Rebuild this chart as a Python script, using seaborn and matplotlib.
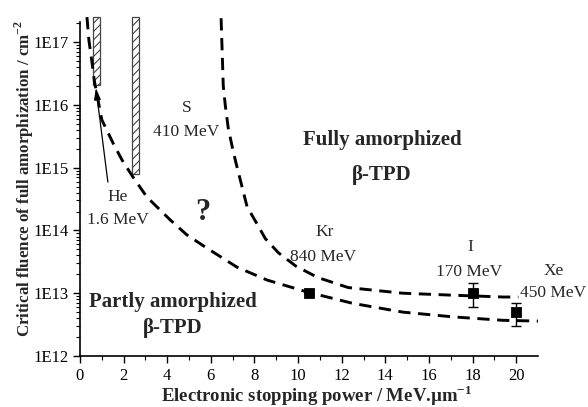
import matplotlib
matplotlib.use("Agg")
import matplotlib.pyplot as plt
import seaborn as sns
import numpy as np
import pandas as pd

# ---- data ----
lower_x = [0.32, 0.41, 0.55, 0.66, 1.0, 1.52, 1.93, 2.43, 3.07, 4.13, 4.9, 5.83,
           7.2, 8.58, 10.4, 12.5, 14.8, 17.1, 19.4, 21.0]
lower_y = [2.5e17, 1.07e17, 4.8e16, 2.4e16, 5.8e15, 2.45e15, 1.32e15, 7.1e14,
           3.4e14, 1.48e14, 8.5e13, 5.2e13, 2.6e13, 1.62e13, 1.05e13, 6.9e12,
           5.0e12, 4.2e12, 3.7e12, 3.6e12]

upper_x = [6.47, 6.51, 6.57, 6.66, 6.8, 7.0, 7.15, 7.66, 8.1, 8.5, 9.1, 9.9,
           10.9, 12.3, 14.8, 17.1, 19.4, 20.1]
upper_y = [2.4e17, 8.9e16, 2.0e16, 1.0e16, 4.2e15, 2.0e15, 1.2e15, 2.4e14,
           1.3e14, 7.4e13, 4.4e13, 2.7e13, 1.78e13, 1.23e13, 1.0e13, 9.3e12,
           8.7e12, 8.7e12]

ions = ["Kr", "I", "Xe"]
ion_x = [10.5, 18.0, 20.0]
ion_y = [1.0e13, 1.0e13, 5.0e12]
ion_err_low = [0.0, 4.0e12, 2.0e12]
ion_err_high = [0.0, 4.5e12, 1.9e12]

bar_x0 = [0.60, 2.39]
bar_x1 = [0.92, 2.71]
bar_bottom = [2.1e16, 8.0e14]
bar_top = [2.5e17, 2.5e17]

ytick_vals = [1e12, 1e13, 1e14, 1e15, 1e16, 1e17]
ytick_labels = ["1E12", "1E13", "1E14", "1E15", "1E16", "1E17"]
xtick_vals = [0, 2, 4, 6, 8, 10, 12, 14, 16, 18, 20]

# ---- style ----
sns.set_style("ticks")
plt.rcParams["font.family"] = ["Liberation Serif", "DejaVu Serif"]
plt.rcParams["mathtext.fontset"] = "custom"
plt.rcParams["mathtext.rm"] = "Liberation Serif"
plt.rcParams["mathtext.bf"] = "Liberation Serif:bold"
plt.rcParams["hatch.color"] = "#666666"
plt.rcParams["hatch.linewidth"] = 0.8

fig = plt.figure(figsize=(5.88, 4.07), dpi=100)
ax = fig.add_axes([0.136, 0.1253, 0.915 - 0.136, 0.966 - 0.1253])

ax.set_yscale("log")
ax.set_xlim(0, 21)
ax.set_ylim(1e12, 10 ** 17.45)

# hatched bars
for x0, x1, b, t in zip(bar_x0, bar_x1, bar_bottom, bar_top):
    ax.bar((x0 + x1) / 2, t - b, bottom=b, width=x1 - x0, color="white",
           edgecolor="#444444", linewidth=0.9, hatch="////", zorder=2)

# dashed curves
df_low = pd.DataFrame({"x": lower_x, "y": lower_y})
df_up = pd.DataFrame({"x": upper_x, "y": upper_y})
for d in (df_low, df_up):
    sns.lineplot(data=d, x="x", y="y", ax=ax, sort=False, estimator=None,
                 color="black", linewidth=2.1, dashes=False, zorder=3)
for line in ax.get_lines():
    line.set_dashes((4.2, 2.6))
    line.set_solid_capstyle("butt")
    line.set_solid_joinstyle("round")

# points with error bars
ax.errorbar(ion_x, ion_y, yerr=[ion_err_low, ion_err_high], fmt="none",
            ecolor="black", elinewidth=1.0, capsize=3.5, capthick=1.0, zorder=4)
df_pts = pd.DataFrame({"x": ion_x, "y": ion_y, "ion": ions})
sns.scatterplot(data=df_pts, x="x", y="y", ax=ax, marker="s", s=55,
                color="black", edgecolor="black", zorder=5, legend=False)

# axes
ax.set_xticks(xtick_vals)
ax.set_xticks(np.arange(1, 21, 2), minor=True)
ax.set_yticks(ytick_vals)
ax.set_yticklabels(ytick_labels)
ax.tick_params(axis="both", which="major", direction="out", length=5,
               width=1.0, labelsize=12, color="black", labelcolor="black")
ax.tick_params(axis="both", which="minor", direction="out", length=3,
               width=0.8, color="black")
ax.tick_params(axis="x", which="major", pad=3.5)
ax.tick_params(axis="y", which="major", pad=3)
for s in ["top", "right"]:
    ax.spines[s].set_visible(False)
for s in ["left", "bottom"]:
    ax.spines[s].set_linewidth(1.2)
    ax.spines[s].set_color("black")
ax.spines["left"].set_bounds(1e12, 10 ** 17.32)

ax.set_xlabel(r"Electronic stopping power / MeV.µm$^{\mathbf{-1}}$",
              fontsize=13.5, fontweight="bold")
ax.set_ylabel(r"Critical fluence of full amorphization / cm$^{\mathbf{-2}}$",
              fontsize=12.2, fontweight="bold")
ax.xaxis.label.set_va("center")
ax.yaxis.label.set_va("center")
ax.xaxis.set_label_coords((317 - 80) / 458, -(396 - 356) / 342)
ax.yaxis.set_label_coords(-(80 - 24) / 458, (356 - 179) / 342)

# annotations
kw = dict(ha="center", va="center", fontsize=12.5)
ax.text(4.91, 10 ** 15.95, "S", **kw)
ax.text(4.86, 10 ** 15.57, "410 MeV", **kw)
ax.text(1.74, 10 ** 14.53, "He", **kw)
ax.text(1.74, 10 ** 14.17, "1.6 MeV", **kw)
ax.text(11.24, 10 ** 13.97, "Kr", **kw)
ax.text(11.15, 10 ** 13.58, "840 MeV", **kw)
ax.text(17.9, 10 ** 13.74, "I", **kw)
ax.text(17.84, 10 ** 13.34, "170 MeV", **kw)
ax.text(21.74, 10 ** 13.35, "Xe", clip_on=False, **kw)
ax.text(21.7, 10 ** 13.0, "450 MeV", clip_on=False, **kw)

bkw = dict(ha="center", va="center", fontsize=15, fontweight="bold")
ax.text(13.85, 10 ** 15.44, "Fully amorphized", **bkw)
ax.text(13.85, 10 ** 14.88, "β-TPD", **bkw)
ax.text(4.27, 10 ** 12.86, "Partly amorphized", **bkw)
ax.text(4.27, 10 ** 12.45, "β-TPD", **bkw)
ax.text(5.64, 10 ** 14.29, "?", ha="center", va="center", fontsize=22,
        fontweight="bold")

ax.annotate("", xy=(0.73, 10 ** 16.27), xytext=(1.28, 10 ** 14.77),
            arrowprops=dict(arrowstyle="-|>,head_length=0.7,head_width=0.2",
                            color="black", lw=0.9, shrinkA=0, shrinkB=0))

fig.savefig("out.png", dpi=100)
